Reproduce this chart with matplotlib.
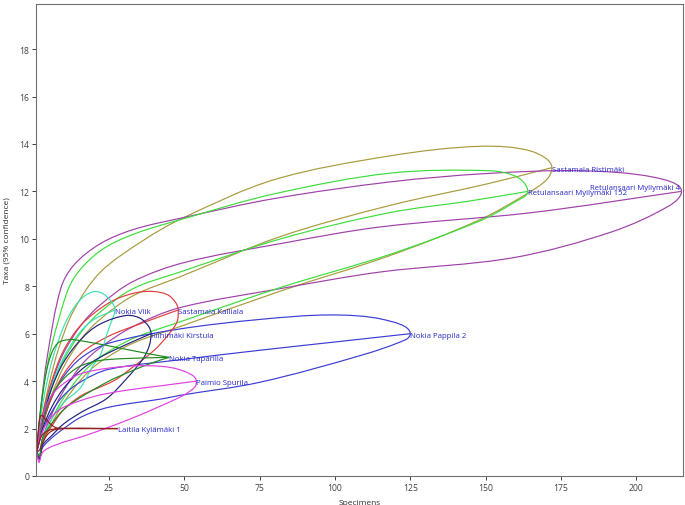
import numpy as np
import matplotlib
matplotlib.use("Agg")
import matplotlib.pyplot as plt
from matplotlib.path import Path
from matplotlib.patches import PathPatch

# ---------------- data ----------------
samples = ["Sastamala Ristimäki", "Retulansaari Myllymäki 4", "Retulansaari Myllymäki 152",
           "Nokia Pappila 2", "Sastamala Kalliala", "Nokia Viik", "Riihimäki Kirstula",
           "Nokia Taparilla", "Paimio Spurila", "Laitila Kylämäki 1"]
specimens = [172, 215, 164, 125, 48, 27, 39, 45, 54, 28]
taxa = [13, 12, 12, 6, 7, 7, 6, 5, 4, 2]

mean_curves = {
    "Sastamala Ristimäki": [(1, 1), (3, 2.1), (6, 3.4), (10, 4.6), (16, 5.8), (22, 6.6), (33, 7.6),
                            (48.6, 8.4), (82, 10.1), (118, 11.4), (150, 12.3), (172, 13)],
    "Retulansaari Myllymäki 4": [(1, 1), (3, 2.4), (6, 3.9), (10, 5.2), (16, 6.4), (22, 7.2), (33, 8.2),
                                 (50, 9.0), (82, 9.8), (115, 10.5), (165, 11.1), (215, 12)],
    "Retulansaari Myllymäki 152": [(1, 1), (3, 2.3), (6, 3.7), (10, 4.9), (16, 6.1), (22, 6.9), (33, 7.9),
                                   (48.6, 8.6), (82, 10.0), (118, 11.1), (145, 11.6), (164, 12)],
    "Nokia Pappila 2": [(1, 1), (3, 1.9), (6, 2.7), (10, 3.4), (16, 4.0), (25, 4.5), (48.6, 4.9),
                        (75, 5.3), (100, 5.65), (125, 6)],
    "Sastamala Kalliala": [(1, 1), (3, 2.2), (6, 3.3), (10, 4.3), (16, 5.2), (25, 5.9), (35, 6.4), (48, 7)],
    "Nokia Viik": [(1, 1), (3, 2.4), (6, 3.8), (10, 5.0), (15, 6.0), (20, 6.6), (27, 7)],
    "Riihimäki Kirstula": [(1, 1), (3, 2.0), (6, 2.9), (10, 3.7), (16, 4.5), (22, 5.0), (30, 5.5), (39, 6)],
    "Nokia Taparilla": [(1, 1), (3, 2.3), (6, 3.4), (10, 4.1), (15, 4.6), (21, 4.85), (30, 4.95), (45, 5)],
    "Paimio Spurila": [(1, 1), (3, 1.9), (6, 2.5), (10, 2.9), (20, 3.35), (30, 3.6), (42, 3.8), (54, 4)],
    "Laitila Kylämäki 1": [(1, 1), (2, 1.5), (3, 1.75), (5, 1.92), (8, 2), (28, 2)],
}

upper_curves = {
    "Sastamala Ristimäki": [(1, 1), (2.5, 2.2), (5, 3.8), (8.4, 5.4), (13.4, 7.0), (22.2, 8.6), (36.6, 9.95),
                            (49.9, 10.9), (80, 12.5), (118.4, 13.5), (148, 13.9), (165, 13.7), (172, 13)],
    "Retulansaari Myllymäki 4": [(1, 1), (2.5, 3.0), (4.5, 5.0), (9, 7.9), (13.4, 8.9), (22.2, 9.8), (33.3, 10.4),
                                 (49.9, 10.9), (80, 11.7), (118.4, 12.4), (150, 12.75), (181, 12.87),
                                 (205.7, 12.6), (215, 12)],
    "Retulansaari Myllymäki 152": [(1, 1), (4, 4.3), (9, 6.9), (13.4, 8.35), (22.2, 9.5), (33.3, 10.2),
                                   (49.9, 10.85), (80, 11.9), (118.4, 12.77), (151.5, 12.87), (160.5, 12.6),
                                   (164, 12)],
    "Nokia Pappila 2": [(1, 1), (3, 2.2), (6, 3.3), (10, 4.2), (16, 5.0), (25, 5.6), (48.6, 6.2), (75, 6.6),
                        (98.4, 6.79), (116, 6.6), (125, 6)],
    "Sastamala Kalliala": [(1, 1), (3, 2.6), (6, 4.0), (10, 5.3), (16, 6.4), (25, 7.3), (33, 7.7), (39.7, 7.78),
                           (45, 7.6), (48, 7)],
    "Nokia Viik": [(1, 1), (3, 3.0), (6, 4.8), (10, 6.3), (13.4, 7.1), (17, 7.6), (20.6, 7.78), (24, 7.6),
                   (27, 7)],
    "Riihimäki Kirstula": [(1, 1), (3, 2.4), (6, 3.7), (10, 4.8), (16, 5.8), (22, 6.4), (30.9, 6.77),
                           (36, 6.6), (39, 6)],
    "Nokia Taparilla": [(1, 1), (2.5, 3.0), (5, 4.8), (8, 5.6), (12, 5.75), (18, 5.65), (26.4, 5.45),
                        (37.5, 5.17), (45, 5)],
    "Paimio Spurila": [(1, 1), (3, 2.5), (6, 3.4), (10, 3.9), (15.4, 4.3), (25, 4.55), (37.5, 4.65),
                       (48, 4.5), (54, 4)],
    "Laitila Kylämäki 1": [(1, 1), (1.8, 2.2), (2.5, 2.55), (4, 2.4), (6, 2.15), (8, 2.02), (28, 2)],
}

lower_curves = {
    "Sastamala Ristimäki": [(1, 1), (2, 0.85), (3, 1.4), (6, 2.2), (10, 3.1), (16, 4.1), (22, 4.8), (33, 5.6),
                            (48.6, 6.3), (82, 7.8), (118.4, 9.3), (148, 10.8), (163.7, 11.9), (170.3, 12.5),
                            (172, 13)],
    "Retulansaari Myllymäki 4": [(1, 1), (2, 0.8), (3, 1.6), (6, 2.6), (10, 3.6), (16, 4.7), (22, 5.4),
                                 (33, 6.3), (48.6, 7.1), (81.9, 7.9), (115, 8.6), (159, 9.2), (192, 10.3),
                                 (211, 11.4), (215, 12)],
    "Retulansaari Myllymäki 152": [(1, 1), (2, 0.85), (3, 1.5), (6, 2.4), (10, 3.3), (16, 4.3), (22, 5.0),
                                   (33, 5.8), (48.6, 6.5), (82, 7.95), (118.4, 9.35), (148, 10.75),
                                   (159, 11.5), (164, 12)],
    "Nokia Pappila 2": [(1, 1), (2, 0.75), (3, 1.2), (6, 1.6), (10, 2.0), (16, 2.5), (25, 2.9), (43, 3.26),
                        (48.6, 3.4), (75, 3.95), (109, 5.1), (123.5, 5.75), (125, 6)],
    "Sastamala Kalliala": [(1, 1), (2, 0.8), (3, 1.5), (6, 2.1), (10, 2.8), (16, 3.4), (26.4, 4.0), (32, 4.5),
                           (40, 5.3), (45, 6.0), (47.6, 6.5), (48, 7)],
    "Nokia Viik": [(1, 1), (2, 0.9), (3, 1.6), (6, 2.4), (10, 3.1), (15.4, 3.7), (19.8, 4.67), (22.2, 5.1),
                   (24.2, 5.94), (25.8, 6.5), (27, 7)],
    "Riihimäki Kirstula": [(1, 1), (2, 0.7), (3, 1.3), (6, 1.7), (10, 2.2), (16, 2.7), (24.2, 3.26),
                           (30.9, 4.11), (36.4, 4.96), (38.4, 5.5), (39, 6)],
    "Nokia Taparilla": [(1, 1), (2, 0.85), (3, 1.6), (6, 2.2), (10, 2.8), (15.4, 3.3), (25, 4.0), (32, 4.4),
                        (40, 4.8), (45, 5)],
    "Paimio Spurila": [(1, 1), (1.8, 0.58), (3, 1.0), (6.7, 1.28), (18.9, 1.78), (32, 2.4), (43, 3.0),
                       (49.7, 3.4), (53.5, 3.75), (54, 4)],
    "Laitila Kylämäki 1": [(1, 1), (2, 1.1), (3, 1.4), (5, 1.8), (8, 1.98), (28, 2)],
}

# ---------------- styles ----------------
colors = {
    "Sastamala Ristimäki": "#a89a3c",
    "Retulansaari Myllymäki 4": "#a040a8",
    "Retulansaari Myllymäki 152": "#3cdc3c",
    "Nokia Pappila 2": "#3c3cd2",
    "Sastamala Kalliala": "#e03c3c",
    "Nokia Viik": "#3ce0b4",
    "Riihimäki Kirstula": "#20207c",
    "Nokia Taparilla": "#208a20",
    "Paimio Spurila": "#e040e0",
    "Laitila Kylämäki 1": "#901c1c",
}
rounded_end = {"Sastamala Ristimäki", "Retulansaari Myllymäki 4", "Retulansaari Myllymäki 152",
               "Nokia Pappila 2", "Sastamala Kalliala", "Nokia Viik", "Riihimäki Kirstula",
               "Paimio Spurila"}
label_color = "#2828c8"
label_offsets = {  # (dx, dy) in points, ha
    "Retulansaari Myllymäki 4": (-1, 3, "right"),
}

plt.rcParams["font.family"] = ["Open Sans", "DejaVu Sans"]

fig = plt.figure(figsize=(6.85, 5.06), dpi=100)
ax = fig.add_axes([36 / 685, 29 / 506, 647 / 685, 472 / 506])

SCALE = np.array([215.0, 20.0])


def smooth_path(points, end_dir=None):
    """Chord-length Catmull-Rom spline through points, as cubic Bezier path.
    end_dir: +1 / -1 forces a vertical tangent (up / down) at the last point."""
    p = np.asarray(points, dtype=float)
    q = p / SCALE
    d = np.sqrt(np.sum(np.diff(q, axis=0) ** 2, axis=1))
    d[d == 0] = 1e-6
    t = np.concatenate([[0], np.cumsum(d)])
    n = len(p)
    m = np.zeros_like(p)
    for i in range(n):
        if i == 0:
            m[i] = (p[1] - p[0]) / (t[1] - t[0])
        elif i == n - 1:
            m[i] = (p[-1] - p[-2]) / (t[-1] - t[-2])
        else:
            m[i] = (p[i + 1] - p[i - 1]) / (t[i + 1] - t[i - 1])
    if end_dir is not None:
        mn = m[-1] / SCALE
        L = np.hypot(*mn)
        m[-1] = np.array([0.0, end_dir * L]) * SCALE
    verts = [tuple(p[0])]
    codes = [Path.MOVETO]
    for i in range(n - 1):
        h = t[i + 1] - t[i]
        c1 = p[i] + m[i] * h / 3
        c2 = p[i + 1] - m[i + 1] * h / 3
        verts += [tuple(c1), tuple(c2), tuple(p[i + 1])]
        codes += [Path.CURVE4] * 3
    return Path(verts, codes)


for name in samples:
    col = colors[name]
    rnd = name in rounded_end
    for curves, edir in ((upper_curves, -1), (mean_curves, None), (lower_curves, 1)):
        path = smooth_path(curves[name], edir if rnd else None)
        patch = PathPatch(path, facecolor="none", edgecolor=col, lw=0.85, transform=ax.transData)
        ax.add_patch(patch)

for name, n, s in zip(samples, specimens, taxa):
    dx, dy, ha = label_offsets.get(name, (0, -1, "left"))
    ax.annotate(name, (n, s), xytext=(dx, dy), textcoords="offset points",
                ha=ha, va="center", fontsize=5.6, color=label_color)

ax.set_xlim(0.8, 215.5)
ax.set_ylim(0, 19.9)
ax.set_xticks([25, 50, 75, 100, 125, 150, 175, 200])
ax.set_yticks([0, 2, 4, 6, 8, 10, 12, 14, 16, 18])
ax.tick_params(axis="both", labelsize=6.2, colors="#404040", length=3, width=0.7, pad=2)
for sp in ax.spines.values():
    sp.set_color("#707070")
    sp.set_linewidth(0.8)
ax.set_xlabel("Specimens", fontsize=6.0, color="#303030", labelpad=5)
ax.set_ylabel("Taxa (95% confidence)", fontsize=6.0, color="#303030", labelpad=6)

fig.savefig("out.png", dpi=100)
